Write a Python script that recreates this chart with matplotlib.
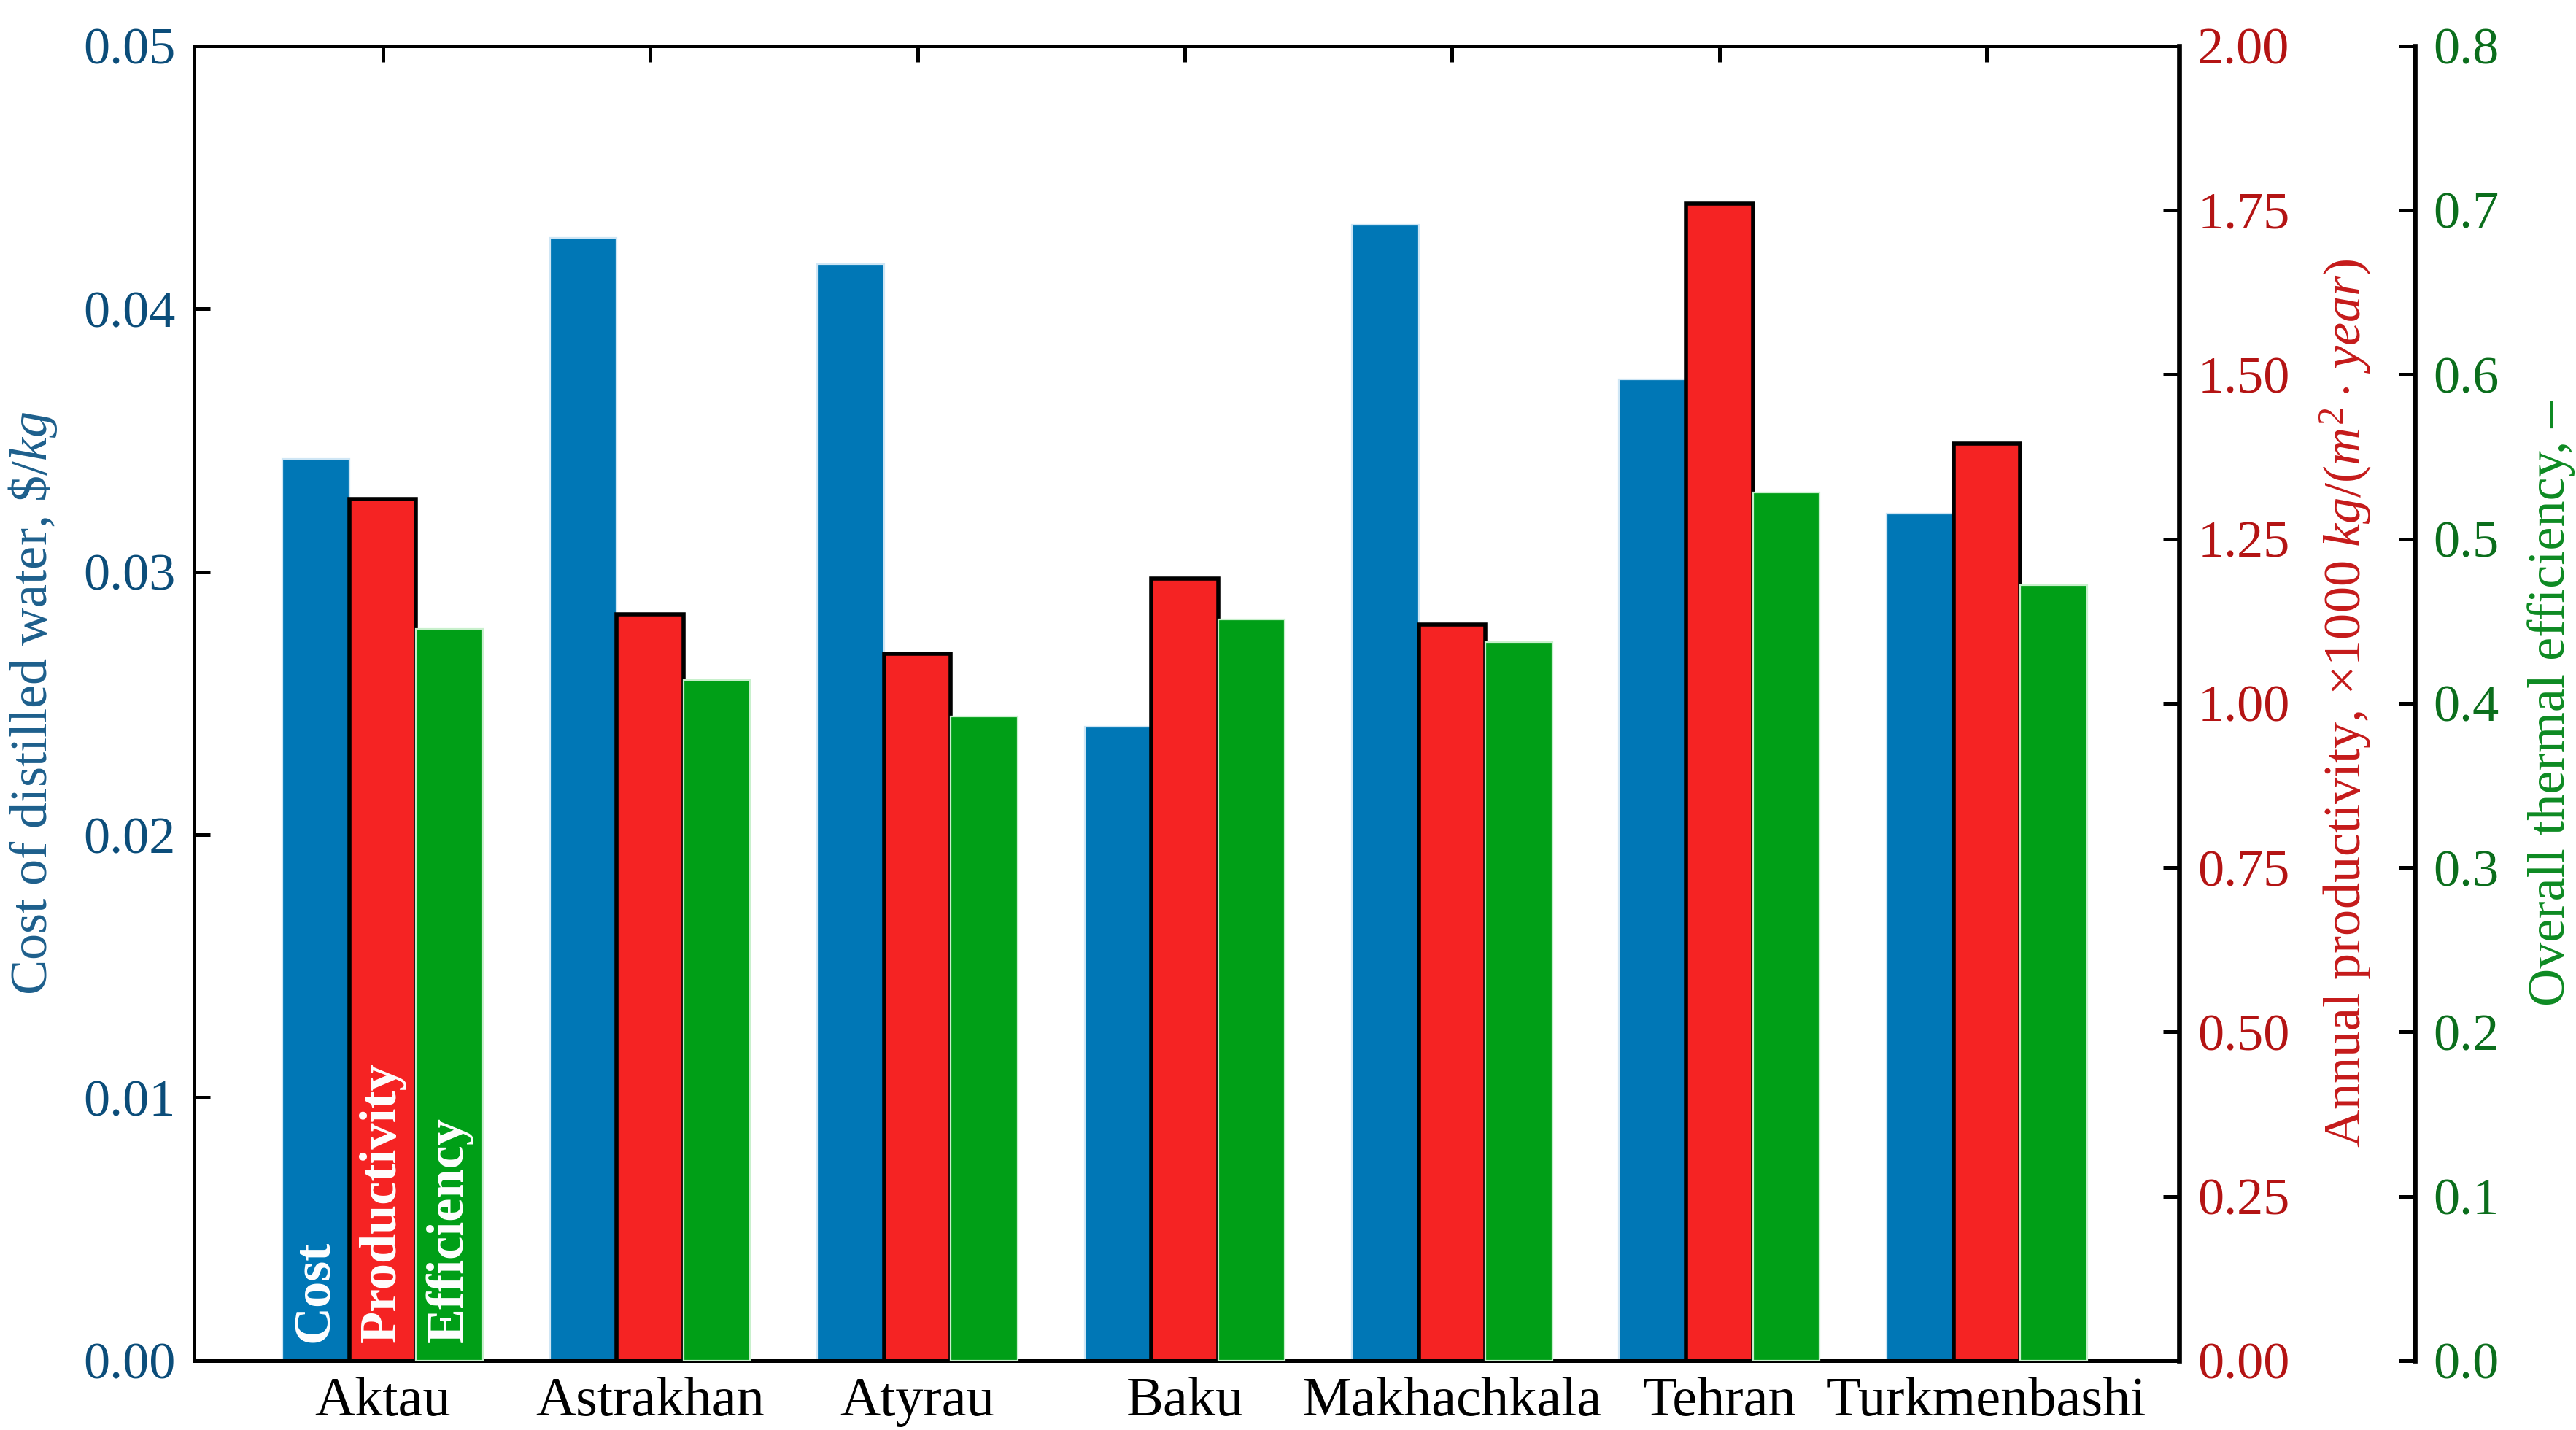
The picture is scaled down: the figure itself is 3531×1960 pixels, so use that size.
import matplotlib
matplotlib.use("Agg")
import matplotlib.pyplot as plt
import numpy as np

cities = ["Aktau", "Astrakhan", "Atyrau", "Baku", "Makhachkala", "Tehran", "Turkmenbashi"]
cost = [0.0343, 0.0427, 0.0417, 0.0241, 0.0432, 0.0373, 0.0322]
productivity = [1.31, 1.135, 1.075, 1.19, 1.12, 1.76, 1.395]
efficiency = [0.445, 0.414, 0.392, 0.451, 0.437, 0.528, 0.472]
cost_ticks = [0.00, 0.01, 0.02, 0.03, 0.04, 0.05]
prod_ticks = [0.00, 0.25, 0.50, 0.75, 1.00, 1.25, 1.50, 1.75, 2.00]
eff_ticks = [0.0, 0.1, 0.2, 0.3, 0.4, 0.5, 0.6, 0.7, 0.8]

plt.rcParams['font.family'] = ['Liberation Serif', 'DejaVu Serif']
plt.rcParams['mathtext.fontset'] = 'custom'
plt.rcParams['mathtext.rm'] = 'Liberation Serif'
plt.rcParams['mathtext.it'] = 'Liberation Serif:italic'
plt.rcParams['mathtext.bf'] = 'Liberation Serif:bold'

BLUE = '#0077b6'
RED = '#f52323'
GREEN = '#009f17'
C_BLUE_TXT = '#0b4d7a'
C_RED_TXT = '#b41414'
C_GRN_TXT = '#0b6e1c'
C_BLUE_LBL = '#1d5f8c'
C_RED_LBL = '#c51a1a'
C_GRN_LBL = '#0d8a22'

fs = 26
fig = plt.figure(figsize=(17.655, 9.8), dpi=200)
ax = fig.add_axes([0.0753, 0.0485, 0.7707, 0.9195])
ax2 = ax.twinx()
ax3 = ax.twinx()
ax3.spines['right'].set_position(('axes', 1.1187))

x = np.arange(len(cities))
w = 0.25
ax.bar(x - w, cost, w, color=BLUE, edgecolor='#cfe6f5', linewidth=0.8, zorder=1)
ax2.bar(x, productivity, w, color=RED, edgecolor='black', linewidth=2.0, zorder=1)
ax3.bar(x + w, efficiency, w, color=GREEN, edgecolor='#c8f0cc', linewidth=0.8, zorder=1)

ax.set_xlim(-0.706, 6.72)
ax.set_ylim(0, 0.05)
ax2.set_ylim(0, 2.0)
ax3.set_ylim(0, 0.8)

ax.set_xticks(x)
ax.set_xticklabels(cities, fontsize=27.5)
ax.set_yticks(cost_ticks)
ax.set_yticklabels([f"{v:.2f}" for v in cost_ticks], fontsize=fs, color=C_BLUE_TXT)
ax2.set_yticks(prod_ticks)
ax2.set_yticklabels([f"{v:.2f}" for v in prod_ticks], fontsize=fs, color=C_RED_TXT)
ax3.set_yticks(eff_ticks)
ax3.set_yticklabels([f"{v:.1f}" for v in eff_ticks], fontsize=fs, color=C_GRN_TXT)

ax.tick_params(axis='y', direction='in', length=8, width=1.8, pad=9)
ax.tick_params(axis='x', direction='in', length=8, width=1.8, top=True, pad=8)
ax2.tick_params(axis='y', direction='in', length=8, width=1.8, pad=9)
ax3.tick_params(axis='y', direction='in', length=8, width=1.8, pad=9)

for a in (ax, ax2, ax3):
    for s in a.spines.values():
        s.set_linewidth(1.8)
for s in ('left', 'top', 'bottom'):
    ax3.spines[s].set_visible(False)
ax3.spines['right'].set_linewidth(2.4)
ax2.spines['right'].set_linewidth(2.4)

ax.set_ylabel("Cost of distilled water, \\$/$kg$", fontsize=fs, color=C_BLUE_LBL, labelpad=12)
ax2.set_ylabel("Annual productivity, ×1000 $kg/(m^2\\cdot\\,year)$", fontsize=fs, color=C_RED_LBL, labelpad=14)
ax3.set_ylabel("Overall thermal efficiency, –", fontsize=fs, color=C_GRN_LBL, labelpad=14)

ax3.text(0 - w, 0.0112, "Cost", rotation=90, color='white', fontsize=fs, fontweight='bold',
         ha='center', va='bottom', zorder=5)
ax3.text(0, 0.0112, "Productivity", rotation=90, color='white', fontsize=fs, fontweight='bold',
         ha='center', va='bottom', zorder=5)
ax3.text(0 + w, 0.0112, "Efficiency", rotation=90, color='white', fontsize=fs, fontweight='bold',
         ha='center', va='bottom', zorder=5)

fig.savefig("out.png", dpi=200)
